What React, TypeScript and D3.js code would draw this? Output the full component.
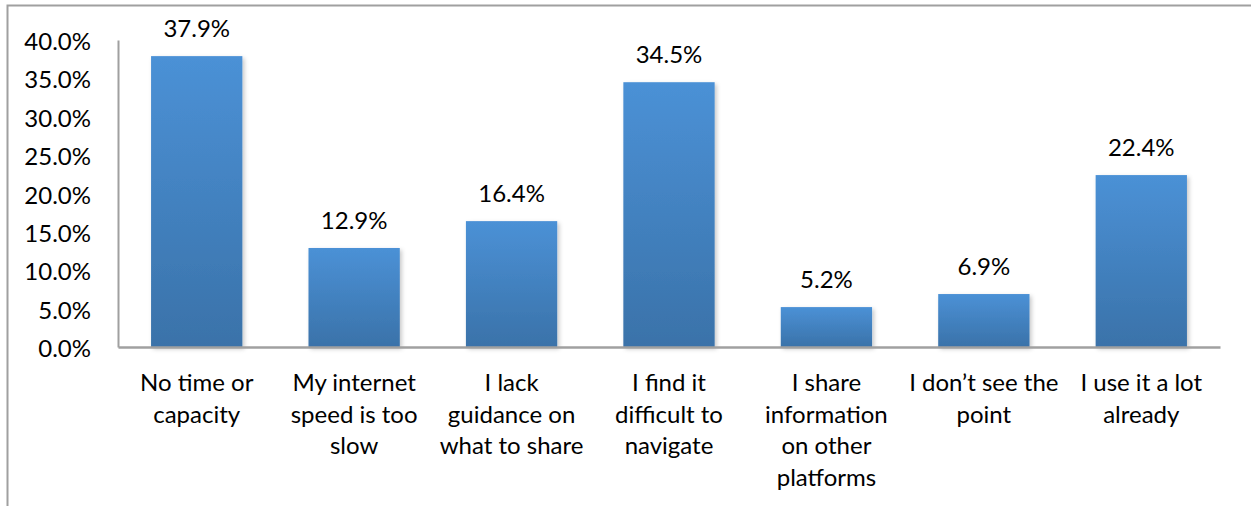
import { useEffect, useRef } from "react";
import * as d3 from "d3";

const categories = [
  "No time or capacity",
  "My internet speed is too slow",
  "I lack guidance on what to share",
  "I find it difficult to navigate",
  "I share information on other platforms",
  "I don’t see the point",
  "I use it a lot already",
];
const categoryLines = [
  ["No time or", "capacity"],
  ["My internet", "speed is too", "slow"],
  ["I lack", "guidance on", "what to share"],
  ["I find it", "difficult to", "navigate"],
  ["I share", "information", "on other", "platforms"],
  ["I don’t see the", "point"],
  ["I use it a lot", "already"],
];
const values = [37.9, 12.9, 16.4, 34.5, 5.2, 6.9, 22.4];
const yTicks = [0, 5, 10, 15, 20, 25, 30, 35, 40];

export default function App() {
  const svgRef = useRef<SVGSVGElement>(null);

  useEffect(() => {
    const width = 1251;
    const height = 506;
    const svg = d3.select(svgRef.current).attr("width", width).attr("height", height);
    svg.selectAll("*").remove();

    const font = "Lato, 'Open Sans', sans-serif";
    const fontSize = 24;

    // plot area
    const left = 118;
    const right = 1220;
    const top = 40;
    const bottom = 347;

    const xScale = d3.scaleBand<string>().domain(categories).range([left, right]).paddingInner(0.42).paddingOuter(0.21);
    const yScale = d3.scaleLinear().domain([0, 40]).range([bottom, top]);

    // gradient + shadow
    const defs = svg.append("defs");
    const grad = defs
      .append("linearGradient")
      .attr("id", "barGrad")
      .attr("x1", 0)
      .attr("y1", 0)
      .attr("x2", 0)
      .attr("y2", 1);
    grad.append("stop").attr("offset", "0%").attr("stop-color", "#4b91d6");
    grad.append("stop").attr("offset", "100%").attr("stop-color", "#3a72a9");

    const shadow = defs
      .append("filter")
      .attr("id", "shadow")
      .attr("x", "-10%")
      .attr("y", "-10%")
      .attr("width", "130%")
      .attr("height", "130%");
    shadow
      .append("feDropShadow")
      .attr("dx", 2)
      .attr("dy", 2)
      .attr("stdDeviation", 2)
      .attr("flood-color", "#000")
      .attr("flood-opacity", 0.22);

    // outer frame
    svg
      .append("path")
      .attr("d", `M7.5,${height} V5.5 H${width}`)
      .attr("fill", "none")
      .attr("stroke", "#a0a0a0")
      .attr("stroke-width", 2);

    // bars
    svg
      .append("g")
      .selectAll("rect")
      .data(values)
      .join("rect")
      .attr("x", (d, i) => xScale(categories[i])!)
      .attr("y", (d) => yScale(d))
      .attr("width", xScale.bandwidth())
      .attr("height", (d) => yScale(0) - yScale(d))
      .attr("fill", "url(#barGrad)")
      .attr("filter", "url(#shadow)");

    // value labels
    svg
      .append("g")
      .selectAll("text")
      .data(values)
      .join("text")
      .attr("x", (d, i) => xScale(categories[i])! + xScale.bandwidth() / 2)
      .attr("y", (d) => yScale(d) - 19)
      .attr("text-anchor", "middle")
      .attr("font-family", font)
      .attr("font-size", fontSize)
      .attr("fill", "#000")
      .text((d) => d.toFixed(1) + "%");

    // y axis
    const yAxis = d3
      .axisLeft(yScale)
      .tickValues(yTicks)
      .tickSize(0)
      .tickPadding(27)
      .tickFormat((d) => (d as number).toFixed(1) + "%");
    const yg = svg.append("g").attr("transform", `translate(${left},0)`).call(yAxis);
    yg.select(".domain").attr("stroke", "#a0a0a0").attr("stroke-width", 2);
    yg.selectAll("text")
      .attr("font-family", font)
      .attr("font-size", fontSize)
      .attr("fill", "#000")
      .attr("dy", "0.4em");

    // x axis
    const xAxis = d3.axisBottom(xScale).tickSize(0).tickFormat(() => "");
    const xg = svg.append("g").attr("transform", `translate(0,${bottom})`).call(xAxis);
    xg.select(".domain").attr("stroke", "#a0a0a0").attr("stroke-width", 2.5);

    // category labels
    const labels = svg
      .append("g")
      .selectAll("text")
      .data(categories)
      .join("text")
      .attr("x", (d) => xScale(d)! + xScale.bandwidth() / 2)
      .attr("y", 391)
      .attr("text-anchor", "middle")
      .attr("font-family", font)
      .attr("font-size", fontSize)
      .attr("fill", "#000");
    labels
      .selectAll("tspan")
      .data((d, i) => categoryLines[i])
      .join("tspan")
      .attr("x", function () {
        return (this.parentNode as SVGTextElement).getAttribute("x");
      })
      .attr("dy", (d, i) => (i === 0 ? 0 : 31.7))
      .text((d) => d);
  }, []);

  return (
    <div style={{ position: "absolute", left: 0, top: 0 }}>
      <svg ref={svgRef}></svg>
    </div>
  );
}
